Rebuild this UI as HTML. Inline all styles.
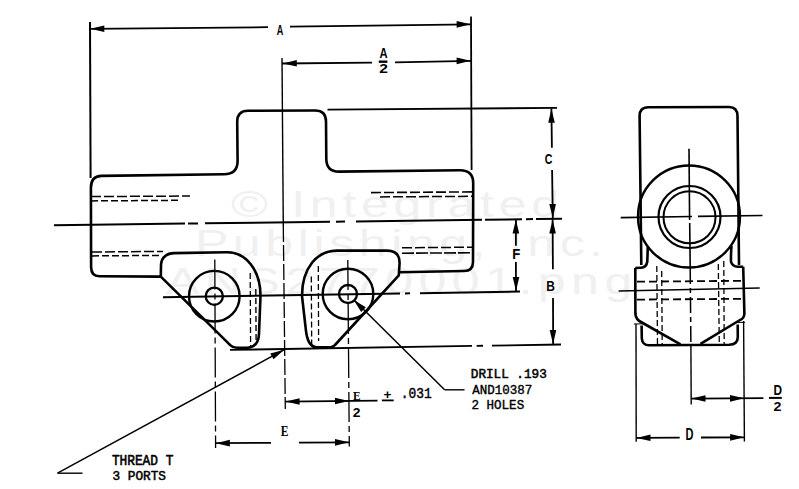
<!DOCTYPE html>
<html><head><meta charset="utf-8"><style>
html,body{margin:0;padding:0;background:#fff;}
svg{display:block;}
</style></head><body>
<svg width="799" height="489" viewBox="0 0 799 489">
<rect width="799" height="489" fill="#fff"/>
<g fill="none" stroke="#000" stroke-linecap="butt" stroke-linejoin="round">
<text x="171.11" y="216.6" font-family="&quot;Liberation Sans&quot;, sans-serif" font-size="37" font-weight="normal" text-anchor="start" fill="#f0f0f0" stroke="none" transform="scale(1.35,1)" textLength="242.96" lengthAdjust="spacing">&#169; Integrated</text>
<text x="144.37" y="255.7" font-family="&quot;Liberation Sans&quot;, sans-serif" font-size="37" font-weight="normal" text-anchor="start" fill="#f0f0f0" stroke="none" transform="scale(1.35,1)" textLength="302.44" lengthAdjust="spacing">Publishing, Inc.</text>
<text x="122.96" y="293.8" font-family="&quot;Liberation Sans&quot;, sans-serif" font-size="37" font-weight="normal" text-anchor="start" fill="#f0f0f0" stroke="none" transform="scale(1.35,1)" textLength="345.33" lengthAdjust="spacing">ANS2770001.png</text>
<line x1="90.0" y1="22" x2="90.6" y2="178" stroke-width="2.0"/>
<line x1="471.0" y1="16.5" x2="471.6" y2="170" stroke-width="1.8"/>
<line x1="89.5" y1="28.8" x2="268" y2="27.2" stroke-width="1.8"/>
<line x1="290" y1="26.6" x2="471.0" y2="24.3" stroke-width="1.8"/>
<polygon points="90.3,28.8 104.3,25.4 104.3,32.0" fill="#000" stroke="none"/>
<polygon points="470.6,24.3 456.6,27.7 456.6,21.1" fill="#000" stroke="none"/>
<text x="0" y="0" font-family="&quot;Liberation Sans&quot;, sans-serif" font-size="100" font-weight="bold" fill="#000" stroke="none" transform="matrix(0.09091,0,0,0.14706,276.73,35.15)">A</text>
<line x1="282" y1="58" x2="283.3" y2="226" stroke-width="1.4"/>
<line x1="283.3" y1="226" x2="285.3" y2="409" stroke-width="1.3" stroke-dasharray="16,3"/>
<line x1="282" y1="63.5" x2="372" y2="62.6" stroke-width="1.8"/>
<line x1="395" y1="62.3" x2="471.0" y2="60.8" stroke-width="1.8"/>
<polygon points="282.8,63.5 296.8,60.0 296.8,66.6" fill="#000" stroke="none"/>
<polygon points="470.6,60.8 456.6,64.2 456.6,57.6" fill="#000" stroke="none"/>
<text x="0" y="0" font-family="&quot;Liberation Sans&quot;, sans-serif" font-size="100" font-weight="bold" fill="#000" stroke="none" transform="matrix(0.11212,0,0,0.14412,379.46,57.94)">A</text>
<text x="0" y="0" font-family="&quot;Liberation Sans&quot;, sans-serif" font-size="100" font-weight="bold" fill="#000" stroke="none" transform="matrix(0.15510,0,0,0.13286,379.33,72.80)">2</text>
<line x1="378.8" y1="61.7" x2="387.4" y2="61.7" stroke-width="2.4"/>
<path d="M90.9,188 Q90.9,176 101.4,175.9 L224,174.3 Q237.6,174.1 237.6,161 L237.2,122 Q237.2,110.8 248,110.8 L315,110.5 Q326,110.5 326,121.5 L326.3,159 Q326.5,171.7 339,171.6 L460,170.2 Q473.2,170.2 473.2,183 L473,262 Q473,271 464,271 L399.5,272.2" stroke-width="2.6"/>
<path d="M90.9,188 L91.1,267 Q91.1,276.2 99.4,276.2 L160.5,276.6" stroke-width="2.6"/>
<line x1="327.5" y1="109.6" x2="557" y2="107.9" stroke-width="1.8"/>
<line x1="91" y1="196.6" x2="190" y2="196.0" stroke-width="1.5" stroke-dasharray="10,3"/>
<line x1="91" y1="200.9" x2="180" y2="200.3" stroke-width="1.5" stroke-dasharray="7,3"/>
<line x1="371" y1="192.6" x2="472" y2="191.9" stroke-width="1.6" stroke-dasharray="10,3"/>
<line x1="380" y1="196.9" x2="472" y2="196.3" stroke-width="1.5" stroke-dasharray="10,3"/>
<line x1="92" y1="252.0" x2="163" y2="251.4" stroke-width="1.5" stroke-dasharray="10,3"/>
<line x1="92" y1="255.9" x2="160" y2="255.4" stroke-width="1.5" stroke-dasharray="7,3"/>
<line x1="402" y1="247.8" x2="472" y2="247.2" stroke-width="1.5" stroke-dasharray="10,3"/>
<line x1="402" y1="253.2" x2="472" y2="252.8" stroke-width="1.6" stroke-dasharray="12,2"/>
<line x1="54" y1="225.3" x2="185" y2="223.6" stroke-width="2.0"/>
<line x1="188" y1="223.56" x2="198" y2="223.43" stroke-width="2.0"/>
<line x1="205" y1="223.34" x2="330" y2="221.71" stroke-width="2.0"/>
<line x1="336" y1="221.64" x2="345" y2="221.52" stroke-width="2.0"/>
<line x1="356" y1="221.38" x2="482" y2="219.74" stroke-width="2.0"/>
<line x1="485" y1="219.7" x2="522" y2="219.22" stroke-width="2.0"/>
<line x1="526" y1="219.17" x2="533" y2="219.08" stroke-width="2.0"/>
<line x1="536" y1="219.04" x2="562" y2="218.7" stroke-width="2.0"/>
<path d="M160.8,276.6 L161,265 Q161.3,258.5 165.5,255.8 Q168.5,253.3 174,253.1 L226,252.3 C246,251.8 260.5,270 260.5,296 L259,334 Q258.3,347.6 247,347.7 L237,347.8 Q233,347.8 230.5,345.3 Z" stroke-width="2.6"/>
<path d="M398.8,275.3 L399.6,263 Q399.6,250.6 387,250.6 L337,250.6 C317,250.6 302,268 302,296 L306,331 Q308,347 316.5,347.2 L331,347.0 Q333.5,346.8 335,345 Z" stroke-width="2.6"/>
<circle cx="214.3" cy="296.2" r="25.3" stroke-width="2.4"/>
<circle cx="214.3" cy="296.2" r="8.6" stroke-width="2.3"/>
<circle cx="348" cy="294" r="25.3" stroke-width="2.4"/>
<circle cx="348" cy="294" r="9.0" stroke-width="2.3"/>
<line x1="163" y1="297.2" x2="400" y2="293.48" stroke-width="2.0"/>
<line x1="405" y1="293.4" x2="410" y2="293.33" stroke-width="2.0"/>
<line x1="420" y1="293.17" x2="520" y2="291.6" stroke-width="2.0"/>
<line x1="214.8" y1="259.5" x2="215.6" y2="448" stroke-width="1.3" stroke-dasharray="30,4,6,4"/>
<line x1="347.8" y1="260" x2="349.3" y2="446.5" stroke-width="1.3" stroke-dasharray="30,4,6,4"/>
<line x1="250.2" y1="273" x2="250.6" y2="348" stroke-width="1.3" stroke-dasharray="6,3"/>
<line x1="255.8" y1="289" x2="256.1" y2="341" stroke-width="1.4" stroke-dasharray="6,3"/>
<line x1="311.3" y1="276.5" x2="311.7" y2="347" stroke-width="1.3" stroke-dasharray="6,3"/>
<line x1="318.3" y1="266" x2="318.6" y2="341" stroke-width="1.3" stroke-dasharray="6,3"/>
<line x1="230" y1="349.9" x2="472" y2="345.95" stroke-width="1.8"/>
<line x1="476.6" y1="345.88" x2="483" y2="345.77" stroke-width="1.8"/>
<line x1="492" y1="345.63" x2="561" y2="344.5" stroke-width="1.8"/>
<line x1="551.4" y1="108.5" x2="551.9" y2="147.8" stroke-width="1.8"/>
<line x1="552.1" y1="170" x2="552.8" y2="218.3" stroke-width="1.8"/>
<polygon points="551.4,108.8 554.8,122.8 548.2,122.8" fill="#000" stroke="none"/>
<polygon points="552.8,218.0 549.3,204.0 555.9,204.0" fill="#000" stroke="none"/>
<text x="0" y="0" font-family="&quot;Liberation Sans&quot;, sans-serif" font-size="100" font-weight="bold" fill="#000" stroke="none" transform="matrix(0.10615,0,0,0.14507,544.78,164.45)">C</text>
<line x1="515.9" y1="219.4" x2="515.9" y2="245.7" stroke-width="1.8"/>
<line x1="515.9" y1="262" x2="516" y2="291" stroke-width="1.8"/>
<polygon points="515.9,219.6 519.2,233.6 512.6,233.6" fill="#000" stroke="none"/>
<polygon points="516.0,291.0 512.7,277.0 519.3,277.0" fill="#000" stroke="none"/>
<text x="0" y="0" font-family="&quot;Liberation Sans&quot;, sans-serif" font-size="100" font-weight="bold" fill="#000" stroke="none" transform="matrix(0.13200,0,0,0.13768,512.18,258.80)">F</text>
<line x1="552.6" y1="219.4" x2="552.9" y2="269.3" stroke-width="1.8"/>
<line x1="553.0" y1="298" x2="553.2" y2="344" stroke-width="1.8"/>
<polygon points="552.6,219.6 555.9,233.6 549.3,233.6" fill="#000" stroke="none"/>
<polygon points="553.0,344.0 549.7,330.0 556.3,330.0" fill="#000" stroke="none"/>
<text x="0" y="0" font-family="&quot;Liberation Sans&quot;, sans-serif" font-size="100" font-weight="bold" fill="#000" stroke="none" transform="matrix(0.11967,0,0,0.14638,546.16,291.30)">B</text>
<line x1="285.3" y1="401.6" x2="377.5" y2="400.6" stroke-width="1.8"/>
<polygon points="285.6,401.6 299.6,398.2 299.6,404.8" fill="#000" stroke="none"/>
<polygon points="349.0,400.9 335.0,404.3 335.0,397.7" fill="#000" stroke="none"/>
<text x="0" y="0" font-family="&quot;Liberation Serif&quot;, serif" font-size="100" font-weight="bold" fill="#000" stroke="none" transform="matrix(0.11333,0,0,0.12615,352.97,400.40)">E</text>
<text x="0" y="0" font-family="&quot;Liberation Sans&quot;, sans-serif" font-size="100" font-weight="bold" fill="#000" stroke="none" transform="matrix(0.13878,0,0,0.13286,352.78,416.50)">2</text>
<text x="0" y="0" font-family="&quot;Liberation Sans&quot;, sans-serif" font-size="100" font-weight="bold" fill="#000" stroke="none" transform="matrix(0.13600,0,0,0.13529,383.46,398.98)">+</text>
<line x1="381.9" y1="400.4" x2="393.7" y2="400.4" stroke-width="1.8"/>
<text x="0" y="0" font-family="&quot;Liberation Mono&quot;, monospace" font-size="100" font-weight="normal" fill="#000" stroke="#000" stroke-width="3" transform="matrix(0.12891,0,0,0.14412,400.71,397.66)">.031</text>
<line x1="215.6" y1="443.2" x2="271" y2="442.8" stroke-width="1.8"/>
<line x1="299" y1="442.6" x2="349.3" y2="442.3" stroke-width="1.8"/>
<polygon points="215.9,443.2 229.9,439.8 229.9,446.4" fill="#000" stroke="none"/>
<polygon points="349.0,442.3 335.0,445.7 335.0,439.1" fill="#000" stroke="none"/>
<text x="0" y="0" font-family="&quot;Liberation Serif&quot;, serif" font-size="100" font-weight="bold" fill="#000" stroke="none" transform="matrix(0.11500,0,0,0.14615,280.77,435.60)">E</text>
<line x1="284.2" y1="349.7" x2="57.5" y2="473.2" stroke-width="1.5"/>
<line x1="57.5" y1="473.2" x2="82.5" y2="473.2" stroke-width="1.4"/>
<polygon points="284.2,349.7 273.5,359.3 270.3,353.5" fill="#000" stroke="none"/>
<text x="0" y="0" font-family="&quot;Liberation Mono&quot;, monospace" font-size="100" font-weight="normal" fill="#000" stroke="#000" stroke-width="4" transform="matrix(0.12818,0,0,0.13939,111.89,464.90)">THREAD T</text>
<text x="0" y="0" font-family="&quot;Liberation Mono&quot;, monospace" font-size="100" font-weight="normal" fill="#000" stroke="#000" stroke-width="4" transform="matrix(0.12738,0,0,0.13529,112.54,479.66)">3 PORTS</text>
<line x1="354.5" y1="300.5" x2="444.6" y2="389.8" stroke-width="1.5"/>
<polygon points="353.5,299.8 365.8,307.3 361.2,312.0" fill="#000" stroke="none"/>
<line x1="444.6" y1="389.8" x2="464.5" y2="389.8" stroke-width="1.4"/>
<text x="0" y="0" font-family="&quot;Liberation Mono&quot;, monospace" font-size="100" font-weight="normal" fill="#000" stroke="#000" stroke-width="4" transform="matrix(0.12679,0,0,0.13235,470.79,377.67)">DRILL .193</text>
<text x="0" y="0" font-family="&quot;Liberation Mono&quot;, monospace" font-size="100" font-weight="normal" fill="#000" stroke="#000" stroke-width="3" transform="matrix(0.12521,0,0,0.12941,472.30,393.67)">AND10387</text>
<text x="0" y="0" font-family="&quot;Liberation Mono&quot;, monospace" font-size="100" font-weight="normal" fill="#000" stroke="#000" stroke-width="3" transform="matrix(0.12574,0,0,0.13235,471.42,408.57)">2 HOLES</text>
<path d="M641.3,265 L639.6,116 Q639.5,107.3 648.3,107.3 L729,107.0 Q737.4,107.0 737.5,116 L739,265" stroke-width="2.6"/>
<circle cx="689" cy="216.5" r="51" stroke-width="2.4"/>
<circle cx="689.5" cy="217" r="31" stroke-width="2.2"/>
<circle cx="689.5" cy="217.3" r="26" stroke-width="2.0"/>
<path d="M647.8,246.5 C647.6,252 647.5,257 647.3,261.5 Q646.5,267.5 641,267.8 L635.3,268" stroke-width="2.6"/>
<path d="M731.5,246 C731,252 730.8,256 731,261.5 Q732,266.5 738,266.8 L743.2,266.8" stroke-width="2.6"/>
<path d="M635.3,268 L635.4,314 Q636,319.5 641,322 L680.5,344.3" stroke-width="2.6"/>
<path d="M743.2,266.8 L744.4,314 Q744,318.5 740,320 L700.5,343.8" stroke-width="2.6"/>
<path d="M641.6,325.5 L641.8,338.5 Q642.4,345.3 649,345.3 L729,344.8 Q737.8,344.5 737.8,337 L737.7,324.5" stroke-width="2.6"/>
<line x1="634" y1="324.0" x2="643" y2="323.8" stroke-width="1.0"/>
<line x1="737" y1="322.5" x2="745" y2="322.3" stroke-width="1.0"/>
<line x1="637" y1="281.7" x2="742.5" y2="280.8" stroke-width="1.8" stroke-dasharray="8,4"/>
<line x1="637" y1="299.6" x2="743.5" y2="298.8" stroke-width="1.8" stroke-dasharray="8,4"/>
<line x1="656.8" y1="266" x2="657.5" y2="345" stroke-width="1.3" stroke-dasharray="6,3"/>
<line x1="661.7" y1="271" x2="662.2" y2="345" stroke-width="1.3" stroke-dasharray="6,3"/>
<line x1="718.3" y1="264" x2="719.3" y2="345" stroke-width="1.3" stroke-dasharray="6,3"/>
<line x1="723.8" y1="261" x2="724.2" y2="345" stroke-width="1.3" stroke-dasharray="6,3"/>
<line x1="620.7" y1="217.6" x2="692" y2="216.5" stroke-width="1.7"/>
<line x1="698" y1="216.4" x2="762.5" y2="215.5" stroke-width="1.7"/>
<line x1="618.6" y1="291.0" x2="759.7" y2="288.0" stroke-width="1.7"/>
<line x1="689" y1="148.8" x2="689.6" y2="220" stroke-width="1.6"/>
<line x1="689.7" y1="223" x2="690.2" y2="268" stroke-width="1.6"/>
<line x1="690.2" y1="268" x2="690.9" y2="346" stroke-width="1.5" stroke-dasharray="16,4,5,4"/>
<line x1="690.9" y1="346" x2="691.2" y2="404.5" stroke-width="1.4"/>
<line x1="636" y1="324" x2="636.2" y2="441.8" stroke-width="1.4"/>
<line x1="743.6" y1="321" x2="744.4" y2="441.5" stroke-width="1.4"/>
<line x1="691.2" y1="398.6" x2="763.4" y2="398.2" stroke-width="1.8"/>
<polygon points="691.5,398.6 705.5,395.2 705.5,401.8" fill="#000" stroke="none"/>
<polygon points="744.0,398.3 730.0,401.7 730.0,395.1" fill="#000" stroke="none"/>
<text x="0" y="0" font-family="&quot;Liberation Sans&quot;, sans-serif" font-size="100" font-weight="bold" fill="#000" stroke="none" transform="matrix(0.11803,0,0,0.15072,773.47,395.40)">D</text>
<text x="0" y="0" font-family="&quot;Liberation Sans&quot;, sans-serif" font-size="100" font-weight="bold" fill="#000" stroke="none" transform="matrix(0.14286,0,0,0.13286,773.57,410.80)">2</text>
<line x1="769" y1="397.9" x2="781.8" y2="397.9" stroke-width="2.0"/>
<line x1="636.2" y1="437.9" x2="679.7" y2="437.6" stroke-width="1.8"/>
<line x1="701" y1="437.5" x2="744.4" y2="437.3" stroke-width="1.8"/>
<polygon points="636.5,437.9 650.5,434.5 650.5,441.1" fill="#000" stroke="none"/>
<polygon points="744.1,437.3 730.1,440.7 730.1,434.1" fill="#000" stroke="none"/>
<text x="0" y="0" font-family="&quot;Liberation Sans&quot;, sans-serif" font-size="100" font-weight="bold" fill="#000" stroke="none" transform="matrix(0.10984,0,0,0.15652,685.53,440.00)">D</text>
</g>
</svg>
</body></html>
